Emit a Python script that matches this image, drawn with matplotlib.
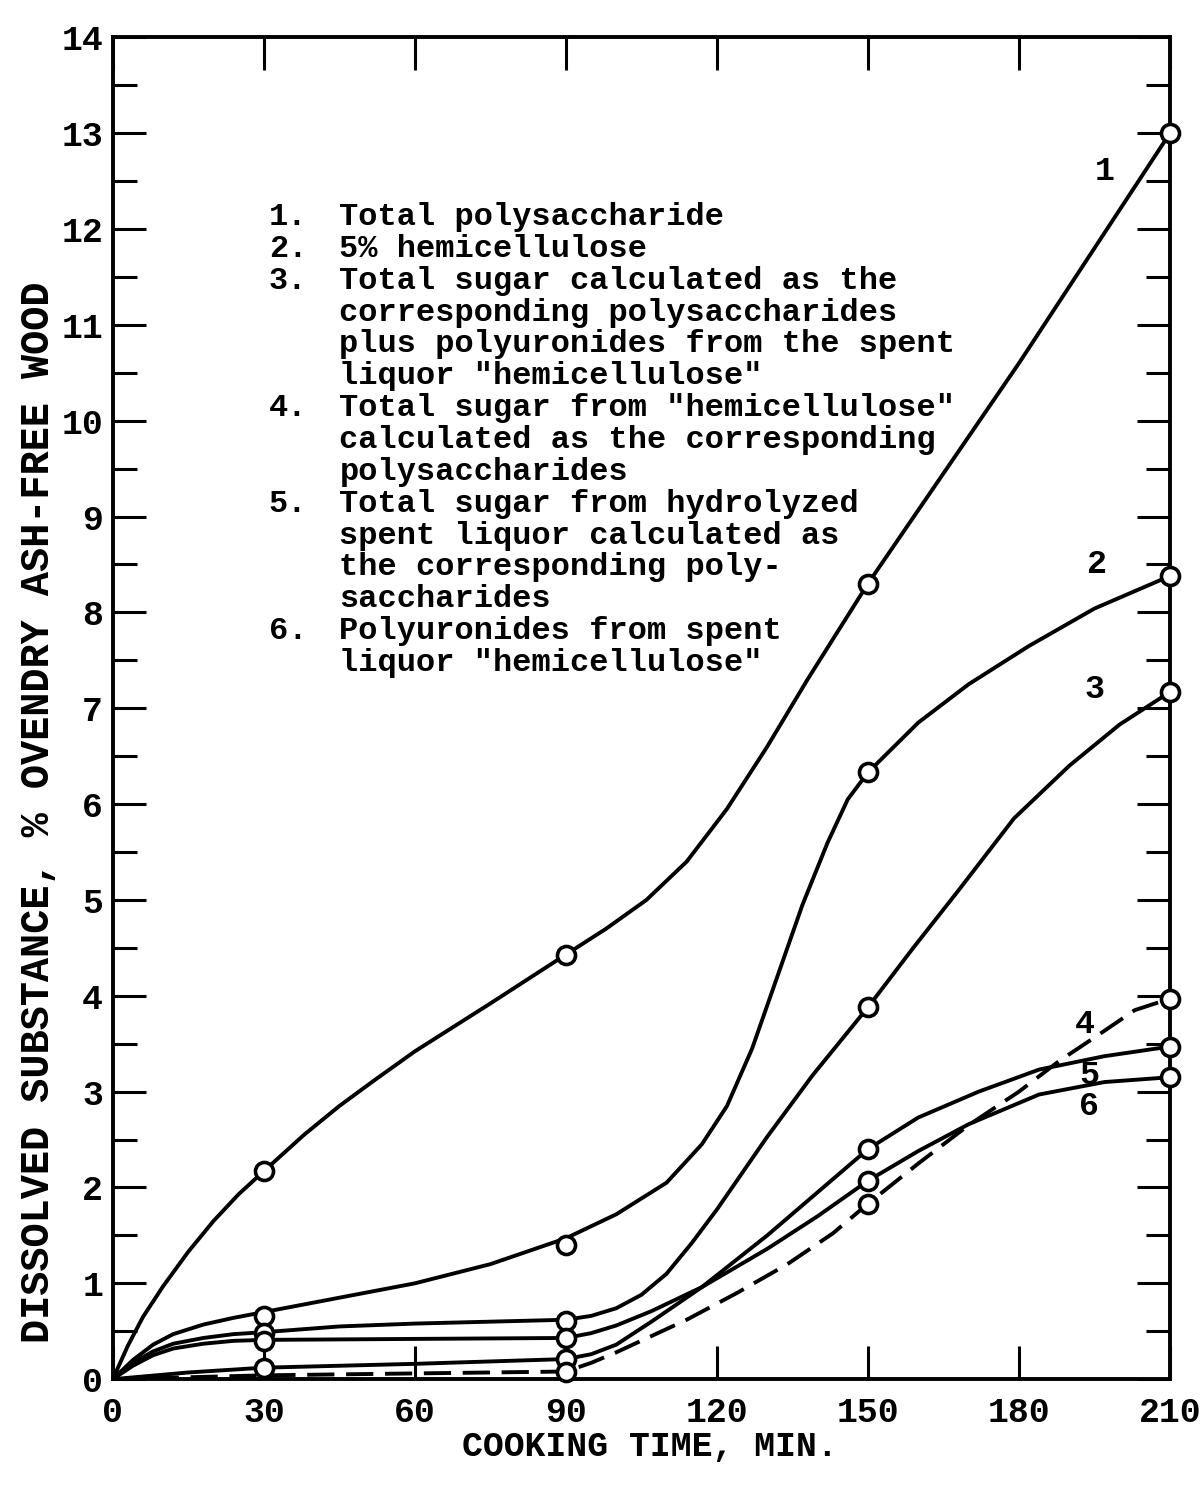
# Dissolved substance vs cooking time
import matplotlib
matplotlib.use("Agg")
import matplotlib.pyplot as plt
from matplotlib.ticker import MultipleLocator

# curve traces (minutes, % of ovendry ash-free wood)
t1 = [0, 3, 6, 10, 15, 20, 25, 30, 38, 45, 52, 60, 75, 90, 98, 106, 114, 122, 130, 138, 144, 150, 165, 180, 195, 210]
v1 = [0, 0.35, 0.65, 0.97, 1.33, 1.65, 1.93, 2.17, 2.55, 2.85, 3.12, 3.42, 3.92, 4.43, 4.7, 5.0, 5.4, 5.95, 6.6, 7.3, 7.8, 8.3, 9.45, 10.6, 11.8, 13.0]

t2 = [0, 4, 8, 12, 18, 24, 30, 45, 60, 75, 90, 100, 110, 117, 122, 127, 132, 137, 142, 146, 150, 160, 170, 182, 195, 210]
v2 = [0, 0.2, 0.36, 0.47, 0.57, 0.64, 0.70, 0.85, 1.0, 1.2, 1.47, 1.72, 2.05, 2.45, 2.85, 3.45, 4.2, 4.95, 5.6, 6.05, 6.33, 6.85, 7.25, 7.65, 8.04, 8.38]

t3 = [0, 4, 8, 12, 18, 24, 30, 45, 60, 75, 90, 95, 100, 105, 110, 115, 120, 125, 130, 139, 150, 159, 168, 179, 190, 200, 210]
v3 = [0, 0.17, 0.29, 0.37, 0.43, 0.47, 0.49, 0.55, 0.58, 0.60, 0.62, 0.66, 0.74, 0.88, 1.1, 1.42, 1.77, 2.15, 2.53, 3.17, 3.88, 4.5, 5.1, 5.85, 6.4, 6.83, 7.17]

t4 = [0, 30, 60, 90, 95, 100, 107, 114, 124, 134, 143, 150, 160, 170, 180, 188, 196, 203, 210]
v4 = [0, 0.04, 0.06, 0.08, 0.17, 0.28, 0.45, 0.62, 0.9, 1.2, 1.52, 1.83, 2.25, 2.65, 3.0, 3.32, 3.6, 3.85, 3.97]

t5 = [0, 15, 30, 60, 90, 95, 100, 107, 117, 130, 140, 150, 160, 172, 184, 197, 210]
v5 = [0, 0.07, 0.12, 0.16, 0.21, 0.26, 0.36, 0.6, 0.96, 1.5, 1.95, 2.40, 2.73, 3.0, 3.23, 3.37, 3.47]

t6 = [0, 4, 8, 12, 18, 24, 30, 60, 90, 95, 100, 107, 117, 130, 140, 150, 160, 170, 184, 197, 210]
v6 = [0, 0.14, 0.25, 0.32, 0.37, 0.40, 0.41, 0.42, 0.43, 0.48, 0.56, 0.71, 0.96, 1.36, 1.7, 2.07, 2.38, 2.66, 2.97, 3.1, 3.15]

# measured points (open circles)
mt = [30, 90, 150, 210]
m1 = [2.17, 4.43, 8.3, 13.0]
m2 = [0.66, 1.40, 6.33, 8.38]
m3 = [0.48, 0.61, 3.88, 7.17]
mt4 = [90, 150, 210]
m4 = [0.08, 1.83, 3.97]
m5 = [0.12, 0.21, 2.40, 3.47]
m6 = [0.40, 0.43, 2.07, 3.15]

curve_names = ["1", "2", "3", "4", "5", "6"]
name_t = [197, 195.5, 195, 193, 194, 194]
name_v = [12.6, 8.5, 7.2, 3.7, 3.17, 2.85]

legend_nums = "1.\n2.\n3.\n\n\n\n4.\n\n\n5.\n\n\n\n6.\n"
legend_text = ("Total polysaccharide\n"
               "5% hemicellulose\n"
               "Total sugar calculated as the\n"
               "corresponding polysaccharides\n"
               "plus polyuronides from the spent\n"
               "liquor \"hemicellulose\"\n"
               "Total sugar from \"hemicellulose\"\n"
               "calculated as the corresponding\n"
               "polysaccharides\n"
               "Total sugar from hydrolyzed\n"
               "spent liquor calculated as\n"
               "the corresponding poly-\n"
               "saccharides\n"
               "Polyuronides from spent\n"
               "liquor \"hemicellulose\"")

font = "Liberation Mono"
plt.rcParams["font.family"] = [font, "DejaVu Sans Mono"]

fig = plt.figure(figsize=(12, 14.91), dpi=100)
ax = fig.add_axes([0.094, 0.075, 0.881, 0.90])

lw = 2.8
for t, v in [(t1, v1), (t2, v2), (t3, v3), (t5, v5), (t6, v6)]:
    ax.plot(t, v, color="black", lw=lw, solid_joinstyle="round", solid_capstyle="round")
ax.plot(t4, v4, color="black", lw=lw, linestyle=(0, (7, 3)), dash_capstyle="butt")

mk = dict(linestyle="none", marker="o", markersize=13, markerfacecolor="white",
          markeredgecolor="black", markeredgewidth=2.6, clip_on=False, zorder=5)
for v in [m1, m2, m3, m5, m6]:
    ax.plot(mt, v, **mk)
ax.plot(mt4, m4, **mk)

for name, x, y in zip(curve_names, name_t, name_v):
    ax.text(x, y, name, fontsize=24, fontweight="bold", ha="center", va="center")

ax.text(31, 12.28, legend_nums, fontsize=23, fontweight="bold", va="top", ha="left",
        linespacing=1.08)
ax.text(45, 12.28, legend_text, fontsize=23, fontweight="bold", va="top", ha="left",
        linespacing=1.08)

ax.set_xlim(0, 210)
ax.set_ylim(0, 14)
ax.set_xticks([0, 30, 60, 90, 120, 150, 180, 210])
ax.yaxis.set_major_locator(MultipleLocator(1))
ax.yaxis.set_minor_locator(MultipleLocator(0.5))
ax.tick_params(axis="both", which="major", direction="in", length=24, width=2.2,
               top=True, right=True, labelsize=25)
ax.tick_params(axis="x", which="major", pad=12)
ax.tick_params(axis="y", which="major", pad=7)
ax.tick_params(axis="y", which="minor", direction="in", length=17, width=2.2, right=True)
for lab in ax.get_xticklabels() + ax.get_yticklabels():
    lab.set_fontweight("bold")
for s in ax.spines.values():
    s.set_linewidth(2.8)

fig.text(38 / 1200, 1 - 812 / 1491, "DISSOLVED SUBSTANCE, % OVENDRY ASH-FREE WOOD",
         rotation=90, fontsize=29, fontweight="bold", ha="center", va="center")
fig.text(650 / 1200, 1 - 1447 / 1491, "COOKING TIME, MIN.", fontsize=25,
         fontweight="bold", ha="center", va="center")

fig.savefig("out.png", dpi=100)
